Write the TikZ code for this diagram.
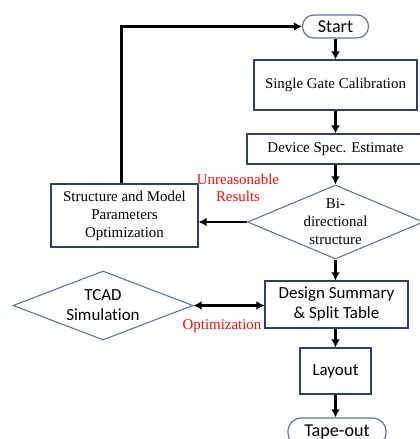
\documentclass[tikz,border=0pt]{standalone}
\usepackage{fontspec}
\setmainfont{Liberation Serif}
\newfontfamily\calibfont[Ligatures=NoCommon]{Carlito}
\usetikzlibrary{shapes.geometric,arrows.meta}
\definecolor{boxline}{RGB}{45,65,100}
\definecolor{dialine}{RGB}{95,115,150}
\definecolor{notered}{RGB}{245,15,15}

\begin{document}
\begin{tikzpicture}[x=0.75pt,y=-0.75pt,>={Latex[length=6pt,width=6.5pt]},
  box/.style={draw=boxline,line width=0.8pt,rectangle,inner sep=0pt},
  term/.style={draw=dialine,line width=0.9pt,rectangle,rounded corners=8.5pt,inner sep=0pt,
    font=\calibfont\fontsize{13.6}{15}\selectfont},
  dia/.style={draw=dialine,line width=0.8pt,diamond,inner sep=0pt},
  serif/.style={font=\fontsize{11.2}{13.5}\selectfont,align=center},
  sans/.style={font=\calibfont\fontsize{12.7}{15}\selectfont,align=center},
  note/.style={font=\fontsize{11.2}{12.8}\selectfont,align=center,text=notered},
  flow/.style={->,line width=2.2pt}]
  \useasboundingbox (0,0) rectangle (420,439);

  % main column
  \node[term,minimum width=49.5pt,minimum height=17.25pt] (start) at (335.5,26.5) {Start};
  \node[box,serif,minimum width=122.25pt,minimum height=37.5pt] (sgc) at (335.5,85) {Single Gate Calibration};
  \node[box,serif,minimum width=132.75pt,minimum height=22.5pt] (dse) at (335.5,149) {Device Spec. Estimate};
  \node[dia,minimum width=132pt,minimum height=55.5pt] (bidir) at (335.5,222) {};
  \node[serif] (bidirtxt) at (bidir) {Bi-\\directional\\structure};
  \node[box,sans,minimum width=107.25pt,minimum height=35.25pt] (dsum) at (336.5,304.5) {Design Summary\\\& Split Table};
  \node[box,sans,minimum width=53.25pt,minimum height=34.5pt] (layout) at (335.5,371) {Layout};
  \node[term,minimum width=73.5pt,minimum height=21pt,rounded corners=10pt] (tapeout) at (337,432) {Tape-out};

  % side branches
  \node[box,serif,minimum width=110.25pt,minimum height=47.25pt] (struct) at (124.5,215.5) {Structure and Model\\Parameters\\Optimization};
  \node[dia,minimum width=135pt,minimum height=51.75pt] (tcad) at (103,305.5) {};
  \node[sans] (tcadtxt) at (tcad) {TCAD\\Simulation};

  % red notes
  \node[note] (unreason) at (238,187.5) {Unreasonable\\Results};
  \node[note] (optim) at (222,326) {Optimization};

  % connectors
  \draw[flow] (start.south) -- (start.south |- sgc.north);
  \draw[flow] (sgc) -- (dse);
  \draw[flow] (dse) -- (bidir.north);
  \draw[flow] (bidir.west) -- (struct.east |- bidir.west);
  \draw[flow] ([xshift=-2pt]struct.north) |- (start.west);
  \draw[flow] (bidir.south) -- (bidir.south |- dsum.north);
  \draw[<->,line width=2.2pt] (tcad.east) -- (tcad.east -| dsum.west);
  \draw[flow] (layout.south |- dsum.south) -- (layout.north);
  \draw[flow] (layout.south) -- (layout.south |- tapeout.north);
\end{tikzpicture}
\end{document}
